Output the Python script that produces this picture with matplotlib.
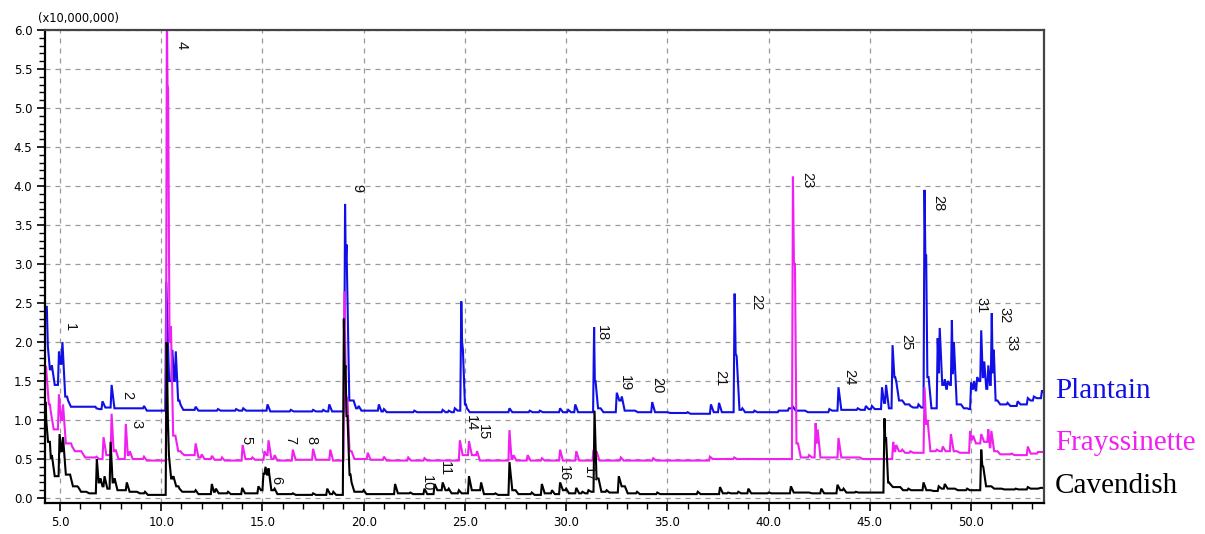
import matplotlib
matplotlib.use("Agg")
import matplotlib.pyplot as plt
from matplotlib.ticker import MultipleLocator, FormatStrFormatter

# ==============================
# DATOS (leidos del cromatograma)
# ==============================
t_start, t_end = 4.28, 53.6

# cada fila: (tiempo de retencion, cima del pico, nivel tras el pico)
plantain_start = 2.45
plantain_peaks = [
    (4.40, 1.95, 1.65), (4.60, 1.70, 1.45), (4.95, 1.88, 1.72), (5.12, 2.00, 1.30),
    (5.40, 1.25, 1.17), (6.80, 1.15, 1.14), (7.10, 1.24, 1.16), (7.55, 1.45, 1.15),
    (9.15, 1.18, 1.12), (10.25, 2.77, 1.50), (10.55, 1.90, 1.50), (10.72, 1.88, 1.25),
    (10.95, 1.20, 1.13), (11.70, 1.17, 1.12), (12.80, 1.14, 1.12), (13.70, 1.14, 1.12),
    (14.05, 1.15, 1.12), (15.25, 1.20, 1.11), (16.40, 1.13, 1.11), (17.50, 1.13, 1.11),
    (18.00, 1.13, 1.11), (18.30, 1.20, 1.11), (19.08, 3.77, 3.00), (19.15, 3.25, 1.25),
    (19.50, 1.25, 1.15), (19.75, 1.18, 1.12), (20.75, 1.20, 1.11), (21.00, 1.14, 1.10),
    (22.50, 1.12, 1.10), (23.90, 1.13, 1.10), (24.20, 1.12, 1.10), (24.50, 1.15, 1.12),
    (24.82, 2.52, 2.00), (24.90, 1.90, 1.20), (25.10, 1.15, 1.10), (27.20, 1.15, 1.10),
    (28.20, 1.12, 1.10), (28.70, 1.12, 1.10), (29.70, 1.15, 1.10), (30.10, 1.13, 1.10),
    (30.45, 1.20, 1.10), (31.38, 2.19, 1.50), (31.45, 1.50, 1.15), (31.70, 1.15, 1.10),
    (32.50, 1.35, 1.25), (32.75, 1.30, 1.12), (33.40, 1.12, 1.10), (34.25, 1.23, 1.10),
    (35.00, 1.10, 1.09), (36.00, 1.10, 1.08), (37.15, 1.20, 1.10), (37.55, 1.22, 1.10),
    (38.32, 2.62, 1.85), (38.42, 1.82, 1.13), (38.70, 1.15, 1.10), (39.30, 1.12, 1.10),
    (40.50, 1.12, 1.12), (41.00, 1.15, 1.15), (41.20, 1.17, 1.12), (41.80, 1.12, 1.10),
    (43.00, 1.14, 1.12), (43.45, 1.42, 1.13), (44.40, 1.15, 1.13), (44.80, 1.18, 1.14),
    (45.10, 1.18, 1.14), (45.60, 1.42, 1.22), (45.80, 1.45, 1.15), (46.12, 1.96, 1.55),
    (46.30, 1.50, 1.25), (46.60, 1.25, 1.20), (47.00, 1.18, 1.16), (47.40, 1.20, 1.16),
    (47.70, 3.95, 3.10), (47.78, 3.12, 1.55), (47.90, 1.55, 1.15), (48.35, 2.05, 1.60),
    (48.45, 2.18, 1.45), (48.70, 1.52, 1.40), (48.85, 1.50, 1.45), (49.05, 2.28, 1.60),
    (49.15, 2.00, 1.20), (49.50, 1.20, 1.15), (49.80, 1.15, 1.14), (50.00, 1.48, 1.40),
    (50.15, 1.50, 1.38), (50.30, 1.55, 1.50), (50.50, 2.15, 1.55), (50.65, 1.75, 1.40),
    (50.85, 1.70, 1.45), (51.02, 2.37, 1.60), (51.12, 1.90, 1.25), (51.30, 1.25, 1.20),
    (51.80, 1.22, 1.18), (52.30, 1.24, 1.20), (52.80, 1.28, 1.25), (53.10, 1.30, 1.28),
    (53.50, 1.38, 1.36),
]

fray_start = 1.68
fray_peaks = [
    (4.35, 1.55, 1.20), (4.55, 1.10, 0.88), (4.95, 1.33, 1.00), (5.15, 1.20, 0.70),
    (5.60, 0.66, 0.60), (6.10, 0.58, 0.52), (6.80, 0.53, 0.50), (7.15, 0.78, 0.55),
    (7.55, 1.08, 0.60), (7.75, 0.62, 0.50), (8.25, 0.95, 0.55), (8.45, 0.60, 0.50),
    (9.15, 0.53, 0.48), (10.28, 6.30, 5.30), (10.34, 5.25, 2.00), (10.48, 2.20, 0.80),
    (10.70, 0.80, 0.60), (11.00, 0.58, 0.55), (11.70, 0.70, 0.52), (12.00, 0.56, 0.50),
    (12.50, 0.54, 0.49), (13.00, 0.52, 0.48), (14.02, 0.68, 0.50), (14.50, 0.52, 0.49),
    (15.10, 0.60, 0.55), (15.30, 0.74, 0.50), (15.60, 0.55, 0.48), (16.50, 0.62, 0.49),
    (17.50, 0.63, 0.49), (18.35, 0.62, 0.48), (19.05, 2.65, 1.30), (19.20, 1.25, 0.60),
    (19.40, 0.60, 0.50), (20.20, 0.58, 0.49), (21.00, 0.53, 0.48), (22.20, 0.52, 0.48),
    (23.00, 0.51, 0.48), (24.75, 0.74, 0.55), (25.20, 0.73, 0.55), (25.60, 0.60, 0.48),
    (27.20, 0.87, 0.50), (27.40, 0.55, 0.48), (28.10, 0.55, 0.48), (28.80, 0.51, 0.48),
    (29.70, 0.62, 0.48), (30.50, 0.60, 0.48), (31.35, 0.62, 0.50), (31.50, 0.60, 0.48),
    (32.70, 0.52, 0.48), (34.30, 0.51, 0.48), (37.10, 0.53, 0.50), (38.30, 0.52, 0.50),
    (41.20, 4.12, 3.00), (41.30, 3.00, 0.70), (41.45, 0.70, 0.52), (42.00, 0.55, 0.52),
    (42.32, 0.96, 0.70), (42.42, 0.88, 0.52), (43.45, 0.77, 0.52), (44.50, 0.52, 0.50),
    (46.15, 0.72, 0.60), (46.30, 0.68, 0.60), (46.60, 0.62, 0.58), (47.00, 0.60, 0.58),
    (47.70, 1.42, 0.95), (47.85, 1.00, 0.60), (48.30, 0.62, 0.60), (48.60, 0.66, 0.60),
    (49.00, 0.82, 0.60), (49.30, 0.60, 0.58), (49.95, 0.86, 0.75), (50.10, 0.80, 0.70),
    (50.50, 0.82, 0.72), (50.85, 0.88, 0.65), (51.00, 0.86, 0.60), (51.30, 0.60, 0.56),
    (52.00, 0.57, 0.55), (52.80, 0.66, 0.57), (53.30, 0.59, 0.59),
]

cav_start = 1.22
cav_peaks = [
    (4.32, 1.00, 0.72), (4.50, 0.72, 0.50), (4.60, 0.55, 0.28), (4.98, 0.82, 0.60),
    (5.15, 0.78, 0.30), (5.50, 0.30, 0.15), (5.90, 0.14, 0.08), (6.30, 0.08, 0.06),
    (6.82, 0.50, 0.20), (7.00, 0.25, 0.15), (7.20, 0.28, 0.12), (7.50, 0.72, 0.20),
    (7.70, 0.25, 0.10), (8.30, 0.20, 0.08), (8.80, 0.08, 0.06), (9.20, 0.08, 0.04),
    (10.27, 2.00, 1.00), (10.38, 0.55, 0.25), (10.60, 0.28, 0.15), (10.90, 0.12, 0.08),
    (11.70, 0.10, 0.05), (12.50, 0.18, 0.08), (12.70, 0.12, 0.06), (13.30, 0.08, 0.05),
    (14.00, 0.13, 0.06), (14.80, 0.15, 0.10), (15.05, 0.32, 0.30), (15.15, 0.40, 0.30),
    (15.30, 0.38, 0.10), (15.60, 0.12, 0.05), (16.50, 0.06, 0.04), (17.50, 0.06, 0.04),
    (18.20, 0.12, 0.05), (18.50, 0.08, 0.04), (19.02, 2.30, 1.60), (19.10, 1.70, 1.05),
    (19.20, 1.05, 0.30), (19.40, 0.20, 0.08), (20.00, 0.10, 0.05), (21.55, 0.18, 0.06),
    (22.30, 0.07, 0.05), (23.00, 0.12, 0.05), (23.50, 0.18, 0.10), (23.90, 0.20, 0.10),
    (24.20, 0.12, 0.06), (24.70, 0.10, 0.06), (25.20, 0.28, 0.10), (25.80, 0.20, 0.05),
    (26.50, 0.06, 0.04), (27.20, 0.46, 0.10), (27.50, 0.10, 0.05), (28.30, 0.07, 0.04),
    (28.80, 0.18, 0.06), (29.30, 0.10, 0.05), (29.70, 0.20, 0.10), (30.00, 0.12, 0.06),
    (30.50, 0.13, 0.06), (30.80, 0.08, 0.06), (31.10, 0.10, 0.08), (31.40, 1.12, 0.25),
    (31.60, 0.25, 0.08), (32.00, 0.10, 0.07), (32.60, 0.28, 0.15), (32.90, 0.15, 0.06),
    (33.50, 0.08, 0.05), (34.50, 0.07, 0.05), (36.50, 0.08, 0.05), (37.60, 0.14, 0.06),
    (38.00, 0.07, 0.06), (38.50, 0.08, 0.06), (39.00, 0.12, 0.06), (40.00, 0.07, 0.06),
    (41.10, 0.15, 0.07), (42.00, 0.07, 0.06), (42.60, 0.12, 0.06), (43.40, 0.17, 0.10),
    (43.70, 0.12, 0.07), (44.30, 0.08, 0.07), (45.00, 0.07, 0.07), (45.72, 1.02, 0.75),
    (45.80, 0.78, 0.20), (46.00, 0.18, 0.14), (46.50, 0.14, 0.10), (46.90, 0.12, 0.10),
    (47.65, 0.20, 0.10), (48.00, 0.10, 0.09), (48.40, 0.15, 0.12), (48.70, 0.18, 0.12),
    (49.20, 0.12, 0.10), (49.80, 0.12, 0.10), (50.50, 0.62, 0.42), (50.60, 0.40, 0.15),
    (51.00, 0.15, 0.12), (51.50, 0.12, 0.11), (52.20, 0.12, 0.11), (52.80, 0.14, 0.12),
    (53.30, 0.12, 0.13),
]

# numeros de los picos: (texto, tiempo, altura)
peak_labels = [
    ("1", 5.5, 2.19), ("2", 8.3, 1.32), ("3", 8.8, 0.95), ("4", 11.0, 5.81),
    ("5", 14.2, 0.74), ("6", 15.7, 0.23), ("7", 16.35, 0.74), ("8", 17.4, 0.74),
    ("9", 19.7, 3.97), ("10", 23.1, 0.19), ("11", 24.0, 0.38), ("14", 25.3, 0.96),
    ("15", 25.9, 0.85), ("16", 29.9, 0.32), ("17", 31.1, 0.30), ("18", 31.75, 2.11),
    ("19", 32.9, 1.47), ("20", 34.5, 1.45), ("21", 37.6, 1.54), ("22", 39.4, 2.51),
    ("23", 41.9, 4.08), ("24", 44.0, 1.55), ("25", 46.8, 2.00), ("28", 48.4, 3.78),
    ("31", 50.5, 2.47), ("32", 51.65, 2.35), ("33", 52.0, 1.99),
]

samples = ["Plantain", "Frayssinette", "Cavendish"]
colors = ["#1010e6", "#f020f0", "#000000"]


def build_trace(start, peaks):
    xs, ys = [t_start], [start]
    level = start
    for i, (rt, top, foot) in enumerate(peaks):
        prev_rt = peaks[i - 1][0] if i > 0 else t_start
        next_rt = peaks[i + 1][0] if i + 1 < len(peaks) else t_end
        wl = min(0.05, (rt - prev_rt) / 2)
        wr = min(0.14, (next_rt - rt) / 2)
        xs += [rt - wl, rt, rt + wr]
        ys += [level, top, foot]
        level = foot
    xs.append(t_end)
    ys.append(level)
    return xs, ys


# ==============================
# FIGURA
# ==============================
fig = plt.figure(figsize=(12.05, 5.34), dpi=100)
ax = fig.add_axes([45 / 1205, 1 - 503 / 534, (1044 - 45) / 1205, (503 - 30) / 534])

traces = [(plantain_start, plantain_peaks), (fray_start, fray_peaks), (cav_start, cav_peaks)]
for (start, peaks), c in zip(traces, colors):
    xs, ys = build_trace(start, peaks)
    ax.plot(xs, ys, color=c, lw=1.5, solid_joinstyle="miter")

for txt, t, v in peak_labels:
    ax.text(t, v, txt, rotation=270, ha="center", va="center",
            fontsize=10.5, family="Liberation Sans", color="#111")

ax.set_xlim(4.26, 53.6)
ax.set_ylim(-0.064, 6.0)
ax.xaxis.set_major_locator(MultipleLocator(5))
ax.xaxis.set_minor_locator(MultipleLocator(1))
ax.yaxis.set_major_locator(MultipleLocator(0.5))
ax.yaxis.set_minor_locator(MultipleLocator(0.1))
ax.xaxis.set_major_formatter(FormatStrFormatter("%.1f"))
ax.yaxis.set_major_formatter(FormatStrFormatter("%.1f"))
ax.tick_params(which="major", direction="out", length=6, width=1.2, labelsize=8.5, pad=3)
ax.tick_params(which="minor", direction="out", length=4, width=1.0)
ax.grid(True, which="major", linestyle=(0, (4, 4)), color="#999999", lw=0.9)

for side in ["left", "bottom"]:
    ax.spines[side].set_linewidth(1.6)
    ax.spines[side].set_color("black")
for side in ["top", "right"]:
    ax.spines[side].set_linewidth(1.6)
    ax.spines[side].set_color("#444444")

fig.text(38 / 1205, 1 - 22 / 534, "(x10,000,000)", fontsize=8.3, ha="left", va="baseline")

# nombres de las muestras a la derecha
name_y = [398, 450, 493]
for name, c, py in zip(samples, colors, name_y):
    fig.text(1055 / 1205, 1 - py / 534, name, color=c, fontsize=21,
             family="Liberation Serif", ha="left", va="baseline")

fig.savefig("out.png", dpi=100)
